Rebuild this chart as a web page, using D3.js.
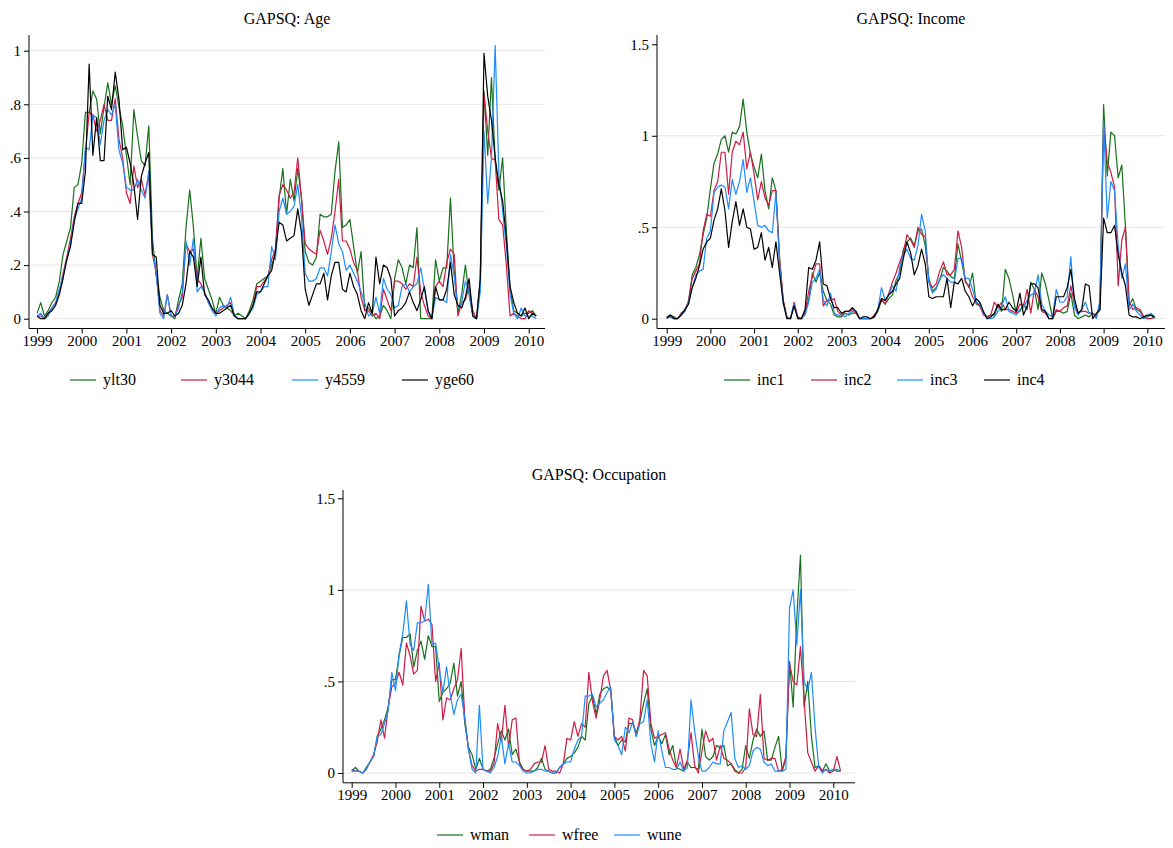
<!DOCTYPE html>
<html>
<head>
<meta charset="utf-8">
<script src="https://cdn.jsdelivr.net/npm/d3@7"></script>
<style>
  body { margin: 0; background: #fff; }
  svg text { font-family: "Liberation Serif", "Times New Roman", serif; fill: #000; }
</style>
</head>
<body>
<svg id="chart" width="1173" height="848"></svg>
<script>
// Monthly observations, January 1999 through March 2010
const startYear = 1999;
const yearTicks = [1999, 2000, 2001, 2002, 2003, 2004, 2005, 2006, 2007, 2008, 2009, 2010];
const ageTicks = [0, 0.2, 0.4, 0.6, 0.8, 1];
const wideTicks = [0, 0.5, 1, 1.5];

// GAPSQ by age group
const ylt30 = [
  0.02, 0.06, 0.01, 0.03, 0.06, 0.08, 0.14, 0.24, 0.29, 0.34, 0.49, 0.50,
  0.58, 0.77, 0.77, 0.85, 0.82, 0.69, 0.79, 0.88, 0.80, 0.87, 0.79, 0.72,
  0.61, 0.50, 0.78, 0.68, 0.59, 0.57, 0.72, 0.30, 0.16, 0.08, 0.03, 0.02,
  0.01, 0.00, 0.07, 0.13, 0.34, 0.48, 0.34, 0.15, 0.30, 0.15, 0.11, 0.07,
  0.02, 0.08, 0.05, 0.04, 0.03, 0.01, 0.02, 0.01, 0.00, 0.03, 0.07, 0.13,
  0.14, 0.15, 0.16, 0.20, 0.24, 0.45, 0.56, 0.39, 0.52, 0.44, 0.56, 0.45,
  0.25, 0.21, 0.20, 0.23, 0.39, 0.38, 0.38, 0.39, 0.55, 0.66, 0.34, 0.35,
  0.37, 0.27, 0.17, 0.25, 0.03, 0.04, 0.02, 0.00, 0.01, 0.05, 0.03, 0.00,
  0.15, 0.22, 0.19, 0.13, 0.20, 0.19, 0.34, 0.00, 0.00, 0.00, 0.00, 0.22,
  0.14, 0.19, 0.19, 0.45, 0.17, 0.02, 0.09, 0.20, 0.09, 0.01, 0.00, 0.14,
  0.85, 0.61, 0.90, 0.59, 0.48, 0.60, 0.33, 0.11, 0.03, 0.02, 0.01, 0.02,
  0.02, 0.03, 0.01
];
const y3044 = [
  0.01, 0.01, 0.00, 0.02, 0.04, 0.06, 0.10, 0.17, 0.23, 0.30, 0.38, 0.43,
  0.47, 0.62, 0.77, 0.76, 0.70, 0.74, 0.80, 0.74, 0.74, 0.82, 0.67, 0.60,
  0.47, 0.43, 0.57, 0.49, 0.52, 0.46, 0.54, 0.24, 0.17, 0.03, 0.01, 0.09,
  0.01, 0.01, 0.05, 0.08, 0.28, 0.25, 0.26, 0.15, 0.13, 0.10, 0.06, 0.04,
  0.02, 0.03, 0.04, 0.05, 0.06, 0.01, 0.00, 0.00, 0.00, 0.02, 0.05, 0.12,
  0.12, 0.14, 0.16, 0.22, 0.26, 0.46, 0.50, 0.48, 0.45, 0.47, 0.60, 0.45,
  0.28, 0.26, 0.25, 0.24, 0.33, 0.29, 0.24, 0.30, 0.40, 0.52, 0.29, 0.29,
  0.26, 0.21, 0.18, 0.08, 0.03, 0.03, 0.01, 0.02, 0.00, 0.11, 0.07, 0.03,
  0.14, 0.14, 0.13, 0.11, 0.13, 0.12, 0.23, 0.10, 0.05, 0.01, 0.00, 0.12,
  0.14, 0.12, 0.21, 0.26, 0.24, 0.01, 0.06, 0.07, 0.12, 0.03, 0.00, 0.14,
  0.84, 0.70, 0.60, 0.59, 0.37, 0.35, 0.20, 0.01, 0.02, 0.01, 0.00, 0.00,
  0.03, 0.02, 0.01
];
const y4559 = [
  0.01, 0.02, 0.00, 0.01, 0.04, 0.06, 0.11, 0.16, 0.22, 0.28, 0.37, 0.41,
  0.45, 0.64, 0.63, 0.76, 0.75, 0.65, 0.74, 0.78, 0.76, 0.80, 0.63, 0.58,
  0.49, 0.48, 0.48, 0.52, 0.48, 0.45, 0.55, 0.26, 0.17, 0.02, 0.00, 0.09,
  0.01, 0.01, 0.04, 0.10, 0.29, 0.20, 0.30, 0.10, 0.12, 0.10, 0.06, 0.03,
  0.01, 0.04, 0.05, 0.04, 0.08, 0.01, 0.00, 0.00, 0.00, 0.02, 0.04, 0.09,
  0.10, 0.12, 0.12, 0.27, 0.22, 0.40, 0.45, 0.39, 0.40, 0.42, 0.50, 0.38,
  0.17, 0.14, 0.14, 0.15, 0.19, 0.19, 0.16, 0.25, 0.35, 0.28, 0.25, 0.18,
  0.20, 0.17, 0.14, 0.10, 0.06, 0.01, 0.02, 0.08, 0.02, 0.15, 0.11, 0.09,
  0.04, 0.05, 0.12, 0.13, 0.10, 0.12, 0.13, 0.19, 0.11, 0.03, 0.00, 0.08,
  0.07, 0.07, 0.06, 0.24, 0.16, 0.04, 0.06, 0.14, 0.10, 0.01, 0.00, 0.10,
  0.70, 0.43, 0.60, 1.02, 0.54, 0.40, 0.27, 0.09, 0.02, 0.00, 0.04, 0.01,
  0.01, 0.01, 0.00
];
const yge60 = [
  0.01, 0.00, 0.00, 0.02, 0.03, 0.05, 0.09, 0.15, 0.22, 0.27, 0.36, 0.43,
  0.43, 0.55, 0.95, 0.61, 0.75, 0.59, 0.59, 0.83, 0.78, 0.92, 0.82, 0.63,
  0.64, 0.58, 0.50, 0.37, 0.53, 0.58, 0.62, 0.24, 0.23, 0.05, 0.02, 0.02,
  0.03, 0.01, 0.02, 0.05, 0.13, 0.25, 0.23, 0.12, 0.23, 0.09, 0.07, 0.04,
  0.02, 0.02, 0.03, 0.04, 0.05, 0.01, 0.00, 0.00, 0.00, 0.02, 0.05, 0.10,
  0.10, 0.13, 0.16, 0.18, 0.25, 0.36, 0.35, 0.29, 0.30, 0.31, 0.41, 0.32,
  0.11, 0.05, 0.09, 0.13, 0.13, 0.17, 0.07, 0.16, 0.21, 0.21, 0.11, 0.10,
  0.17, 0.12, 0.09, 0.03, 0.00, 0.06, 0.02, 0.23, 0.13, 0.20, 0.19, 0.15,
  0.01, 0.03, 0.04, 0.06, 0.10, 0.06, 0.03, 0.07, 0.12, 0.03, 0.00, 0.12,
  0.07, 0.07, 0.11, 0.21, 0.09, 0.05, 0.04, 0.08, 0.15, 0.01, 0.00, 0.15,
  0.99, 0.83, 0.74, 0.60, 0.50, 0.44, 0.30, 0.12, 0.06, 0.02, 0.01, 0.04,
  0.00, 0.02, 0.01
];

// GAPSQ by income quartile
const inc1 = [
  0.01, 0.02, 0.01, 0.00, 0.03, 0.05, 0.09, 0.24, 0.28, 0.35, 0.46, 0.55,
  0.71, 0.85, 0.90, 0.98, 1.00, 0.91, 1.02, 1.01, 1.05, 1.20, 1.02, 0.90,
  0.83, 0.77, 0.90, 0.70, 0.60, 0.77, 0.70, 0.33, 0.10, 0.01, 0.00, 0.07,
  0.01, 0.00, 0.04, 0.10, 0.25, 0.20, 0.25, 0.15, 0.10, 0.08, 0.02, 0.01,
  0.01, 0.03, 0.02, 0.03, 0.03, 0.00, 0.00, 0.00, 0.00, 0.01, 0.04, 0.10,
  0.08, 0.11, 0.13, 0.21, 0.25, 0.38, 0.42, 0.44, 0.40, 0.48, 0.49, 0.40,
  0.22, 0.15, 0.17, 0.21, 0.28, 0.26, 0.23, 0.22, 0.41, 0.31, 0.21, 0.17,
  0.25, 0.08, 0.07, 0.03, 0.01, 0.02, 0.02, 0.07, 0.04, 0.27, 0.22, 0.13,
  0.03, 0.04, 0.08, 0.05, 0.20, 0.16, 0.05, 0.25, 0.19, 0.10, 0.00, 0.04,
  0.04, 0.03, 0.04, 0.14, 0.02, 0.00, 0.01, 0.02, 0.01, 0.03, 0.02, 0.05,
  1.17, 0.78, 1.02, 1.00, 0.77, 0.84, 0.50, 0.07, 0.11, 0.05, 0.04, 0.01,
  0.01, 0.02, 0.00
];
const inc2 = [
  0.01, 0.01, 0.00, 0.00, 0.03, 0.04, 0.10, 0.22, 0.26, 0.30, 0.48, 0.57,
  0.56, 0.70, 0.75, 0.91, 0.91, 0.68, 0.91, 0.97, 0.95, 1.02, 0.82, 0.91,
  0.79, 0.65, 0.75, 0.66, 0.62, 0.70, 0.70, 0.33, 0.10, 0.01, 0.00, 0.09,
  0.01, 0.00, 0.03, 0.15, 0.23, 0.30, 0.30, 0.07, 0.10, 0.10, 0.11, 0.04,
  0.02, 0.04, 0.04, 0.05, 0.03, 0.00, 0.00, 0.00, 0.00, 0.02, 0.05, 0.11,
  0.08, 0.14, 0.20, 0.25, 0.31, 0.36, 0.46, 0.43, 0.39, 0.50, 0.46, 0.45,
  0.20, 0.17, 0.19, 0.26, 0.31, 0.24, 0.24, 0.27, 0.48, 0.39, 0.20, 0.18,
  0.12, 0.09, 0.07, 0.02, 0.01, 0.02, 0.09, 0.06, 0.09, 0.05, 0.05, 0.04,
  0.03, 0.08, 0.07, 0.16, 0.03, 0.16, 0.12, 0.04, 0.03, 0.00, 0.00, 0.05,
  0.04, 0.06, 0.07, 0.18, 0.08, 0.03, 0.04, 0.04, 0.03, 0.03, 0.01, 0.08,
  1.05, 0.86, 0.80, 0.72, 0.18, 0.43, 0.50, 0.10, 0.05, 0.06, 0.05, 0.01,
  0.00, 0.00, 0.01
];
const inc3 = [
  0.01, 0.01, 0.00, 0.00, 0.02, 0.04, 0.09, 0.17, 0.24, 0.26, 0.27, 0.44,
  0.48, 0.69, 0.72, 0.73, 0.72, 0.60, 0.76, 0.68, 0.75, 0.87, 0.69, 0.77,
  0.64, 0.51, 0.50, 0.51, 0.48, 0.47, 0.69, 0.30, 0.08, 0.01, 0.00, 0.08,
  0.00, 0.00, 0.02, 0.09, 0.20, 0.22, 0.27, 0.10, 0.07, 0.14, 0.03, 0.02,
  0.02, 0.01, 0.03, 0.04, 0.04, 0.00, 0.00, 0.00, 0.00, 0.01, 0.05, 0.17,
  0.10, 0.13, 0.18, 0.15, 0.28, 0.35, 0.38, 0.33, 0.32, 0.40, 0.57, 0.48,
  0.20, 0.14, 0.16, 0.22, 0.24, 0.22, 0.20, 0.20, 0.33, 0.33, 0.22, 0.22,
  0.16, 0.09, 0.08, 0.03, 0.00, 0.00, 0.01, 0.04, 0.07, 0.12, 0.04, 0.03,
  0.02, 0.05, 0.06, 0.10, 0.13, 0.14, 0.24, 0.08, 0.04, 0.02, 0.01, 0.16,
  0.09, 0.09, 0.12, 0.34, 0.06, 0.02, 0.05, 0.09, 0.03, 0.03, 0.00, 0.10,
  1.08, 0.55, 0.75, 0.70, 0.40, 0.22, 0.30, 0.05, 0.08, 0.04, 0.02, 0.00,
  0.01, 0.03, 0.01
];
const inc4 = [
  0.00, 0.02, 0.00, 0.00, 0.02, 0.05, 0.08, 0.17, 0.22, 0.29, 0.38, 0.42,
  0.44, 0.54, 0.60, 0.71, 0.59, 0.39, 0.53, 0.64, 0.51, 0.60, 0.50, 0.49,
  0.38, 0.39, 0.47, 0.32, 0.39, 0.28, 0.42, 0.25, 0.09, 0.00, 0.00, 0.07,
  0.00, 0.00, 0.05, 0.28, 0.27, 0.32, 0.42, 0.19, 0.18, 0.11, 0.06, 0.06,
  0.03, 0.04, 0.04, 0.06, 0.04, 0.00, 0.01, 0.01, 0.00, 0.01, 0.05, 0.11,
  0.10, 0.13, 0.15, 0.19, 0.22, 0.33, 0.42, 0.36, 0.24, 0.29, 0.38, 0.30,
  0.12, 0.11, 0.12, 0.12, 0.12, 0.22, 0.06, 0.20, 0.19, 0.22, 0.15, 0.12,
  0.07, 0.11, 0.09, 0.04, 0.00, 0.01, 0.03, 0.08, 0.05, 0.05, 0.09, 0.06,
  0.04, 0.14, 0.02, 0.07, 0.19, 0.19, 0.17, 0.05, 0.04, 0.00, 0.00, 0.12,
  0.12, 0.12, 0.17, 0.27, 0.11, 0.03, 0.05, 0.19, 0.18, 0.00, 0.03, 0.05,
  0.55, 0.47, 0.47, 0.51, 0.35, 0.25, 0.18, 0.02, 0.01, 0.01, 0.00, 0.01,
  0.02, 0.02, 0.01
];

// GAPSQ by occupation
const wman = [
  0.01, 0.03, 0.01, 0.00, 0.03, 0.06, 0.09, 0.20, 0.24, 0.29, 0.36, 0.51,
  0.51, 0.64, 0.74, 0.74, 0.76, 0.58, 0.67, 0.72, 0.62, 0.75, 0.69, 0.69,
  0.39, 0.44, 0.46, 0.49, 0.60, 0.42, 0.50, 0.27, 0.14, 0.10, 0.02, 0.08,
  0.02, 0.01, 0.02, 0.08, 0.16, 0.23, 0.18, 0.24, 0.10, 0.13, 0.06, 0.02,
  0.01, 0.01, 0.01, 0.03, 0.08, 0.02, 0.01, 0.00, 0.00, 0.03, 0.05, 0.08,
  0.09, 0.11, 0.14, 0.20, 0.18, 0.38, 0.42, 0.32, 0.43, 0.46, 0.47, 0.45,
  0.20, 0.15, 0.18, 0.17, 0.27, 0.27, 0.22, 0.28, 0.38, 0.46, 0.24, 0.15,
  0.20, 0.16, 0.21, 0.10, 0.15, 0.03, 0.02, 0.01, 0.06, 0.03, 0.03, 0.02,
  0.24, 0.09, 0.07, 0.09, 0.15, 0.14, 0.15, 0.04, 0.05, 0.02, 0.00, 0.02,
  0.15, 0.08, 0.18, 0.24, 0.20, 0.23, 0.07, 0.07, 0.14, 0.20, 0.01, 0.08,
  0.61, 0.36, 0.85, 1.19, 0.36, 0.50, 0.20, 0.03, 0.04, 0.01, 0.05, 0.01,
  0.02, 0.01, 0.01
];
const wfree = [
  0.02, 0.01, 0.01, 0.00, 0.02, 0.06, 0.10, 0.17, 0.29, 0.19, 0.36, 0.47,
  0.49, 0.55, 0.48, 0.71, 0.64, 0.54, 0.56, 0.91, 0.83, 0.84, 0.81, 0.50,
  0.60, 0.29, 0.41, 0.40, 0.46, 0.51, 0.68, 0.30, 0.13, 0.04, 0.01, 0.02,
  0.02, 0.01, 0.01, 0.05, 0.27, 0.17, 0.37, 0.14, 0.29, 0.30, 0.05, 0.02,
  0.01, 0.02, 0.05, 0.06, 0.06, 0.15, 0.02, 0.01, 0.01, 0.00, 0.05, 0.19,
  0.18, 0.28, 0.20, 0.27, 0.25, 0.55, 0.39, 0.30, 0.40, 0.53, 0.56, 0.45,
  0.20, 0.18, 0.20, 0.12, 0.30, 0.29, 0.20, 0.30, 0.56, 0.53, 0.27, 0.19,
  0.20, 0.21, 0.22, 0.13, 0.07, 0.03, 0.13, 0.02, 0.07, 0.22, 0.04, 0.00,
  0.12, 0.23, 0.17, 0.19, 0.07, 0.15, 0.08, 0.07, 0.05, 0.01, 0.00, 0.00,
  0.03, 0.35, 0.21, 0.20, 0.43, 0.08, 0.07, 0.08, 0.08, 0.01, 0.02, 0.09,
  0.60, 0.50, 0.48, 0.69, 0.40, 0.11, 0.06, 0.01, 0.04, 0.01, 0.02, 0.00,
  0.01, 0.09, 0.01
];
const wune = [
  0.01, 0.01, 0.01, 0.00, 0.02, 0.06, 0.09, 0.20, 0.21, 0.27, 0.34, 0.55,
  0.45, 0.65, 0.76, 0.94, 0.70, 0.67, 0.82, 0.82, 0.83, 1.03, 0.70, 0.71,
  0.57, 0.44, 0.58, 0.43, 0.32, 0.40, 0.43, 0.30, 0.13, 0.02, 0.00, 0.37,
  0.02, 0.01, 0.00, 0.03, 0.09, 0.20, 0.05, 0.16, 0.06, 0.06, 0.04, 0.01,
  0.00, 0.00, 0.01, 0.02, 0.02, 0.01, 0.01, 0.00, 0.00, 0.03, 0.05, 0.06,
  0.06, 0.13, 0.18, 0.20, 0.42, 0.42, 0.43, 0.36, 0.38, 0.40, 0.44, 0.47,
  0.18, 0.15, 0.10, 0.25, 0.22, 0.28, 0.20, 0.27, 0.28, 0.40, 0.16, 0.06,
  0.23, 0.12, 0.03, 0.03, 0.02, 0.02, 0.06, 0.01, 0.03, 0.40, 0.23, 0.09,
  0.01, 0.01, 0.03, 0.06, 0.05, 0.05, 0.23, 0.28, 0.33, 0.08, 0.03, 0.04,
  0.02, 0.04, 0.12, 0.14, 0.13, 0.06, 0.04, 0.05, 0.01, 0.01, 0.01, 0.02,
  0.90, 1.00, 0.70, 1.00, 0.50, 0.45, 0.55, 0.25, 0.03, 0.00, 0.02, 0.01,
  0.02, 0.02, 0.01
];

const GREEN = "#17701b", RED = "#cf1b45", BLUE = "#1e8cff", BLACK = "#000000";

const svg = d3.select("#chart");
const FONT = "'Liberation Serif', 'Times New Roman', serif";

const panels = [
  {
    title: "GAPSQ: Age",
    left: 29, right: 545, top: 35, bottom: 328.5,
    x1999: 37, x2010: 528.7,
    yRef: 1, y0px: 318.7, yRefPx: 50.7,
    yTicks: ageTicks, grid: ageTicks,
    titleY: 24, legendY: 380,
    legendX: [70, 181, 292, 402],
    series: [
      { name: "ylt30", values: ylt30, color: GREEN },
      { name: "y3044", values: y3044, color: RED },
      { name: "y4559", values: y4559, color: BLUE },
      { name: "yge60", values: yge60, color: BLACK }
    ]
  },
  {
    title: "GAPSQ: Income",
    left: 657, right: 1165, top: 35, bottom: 328.5,
    x1999: 666.7, x2010: 1147.3,
    yRef: 1.5, y0px: 318.7, yRefPx: 44.3,
    yTicks: wideTicks, grid: [0, 0.5, 1],
    titleY: 24, legendY: 380,
    legendX: [724, 811, 897, 984],
    series: [
      { name: "inc1", values: inc1, color: GREEN },
      { name: "inc2", values: inc2, color: RED },
      { name: "inc3", values: inc3, color: BLUE },
      { name: "inc4", values: inc4, color: BLACK }
    ]
  },
  {
    title: "GAPSQ: Occupation",
    left: 343, right: 855, top: 490, bottom: 782.8,
    x1999: 351.7, x2010: 833.3,
    yRef: 1.5, y0px: 773, yRefPx: 498.3,
    yTicks: wideTicks, grid: [0, 0.5, 1],
    titleY: 480, legendY: 835,
    legendX: [437, 529, 614],
    series: [
      { name: "wman", values: wman, color: GREEN },
      { name: "wfree", values: wfree, color: RED },
      { name: "wune", values: wune, color: BLUE }
    ]
  }
];

const fmtY = d => d === 0 ? "0" : String(d).replace(/^0\./, ".");

panels.forEach(p => {
  const g = svg.append("g");
  const x = d3.scaleLinear().domain([1999, 2010]).range([p.x1999, p.x2010]);
  const y = d3.scaleLinear().domain([0, p.yRef]).range([p.y0px, p.yRefPx]);

  // horizontal gridlines
  g.append("g").selectAll("line").data(p.grid).join("line")
    .attr("x1", p.left).attr("x2", p.right)
    .attr("y1", d => y(d)).attr("y2", d => y(d))
    .attr("stroke", "#e6e6e6").attr("stroke-width", 1);

  // series lines
  const line = d3.line()
    .x((d, i) => x(startYear + i / 12))
    .y(d => y(d));
  p.series.forEach(s => {
    g.append("path").datum(s.values)
      .attr("d", line)
      .attr("fill", "none")
      .attr("stroke", s.color)
      .attr("stroke-width", 1.2)
      .attr("stroke-linejoin", "round");
  });

  // y axis
  const yAxis = g.append("g")
    .attr("transform", `translate(${p.left},0)`)
    .call(d3.axisLeft(y).tickValues(p.yTicks).tickFormat(fmtY).tickSize(5).tickPadding(3));
  yAxis.select(".domain").remove();
  g.append("line")
    .attr("x1", p.left).attr("x2", p.left)
    .attr("y1", p.top).attr("y2", p.bottom)
    .attr("stroke", "#000").attr("stroke-width", 1);

  // x axis
  const xAxis = g.append("g")
    .attr("transform", `translate(0,${p.bottom})`)
    .call(d3.axisBottom(x).tickValues(yearTicks).tickFormat(d3.format("d")).tickSize(5).tickPadding(2));
  xAxis.select(".domain").remove();
  g.append("line")
    .attr("x1", p.left).attr("x2", p.right)
    .attr("y1", p.bottom).attr("y2", p.bottom)
    .attr("stroke", "#000").attr("stroke-width", 1);

  [yAxis, xAxis].forEach(a => {
    a.attr("font-family", FONT).attr("font-size", 15);
    a.selectAll(".tick line").attr("stroke", "#000");
    a.selectAll(".tick text").attr("fill", "#000");
  });

  // panel title
  g.append("text")
    .attr("x", (p.left + p.right) / 2).attr("y", p.titleY)
    .attr("text-anchor", "middle")
    .attr("font-size", 16)
    .text(p.title);

  // legend
  const leg = g.append("g");
  p.series.forEach((s, i) => {
    const lx = p.legendX[i];
    leg.append("line")
      .attr("x1", lx).attr("x2", lx + 26)
      .attr("y1", p.legendY).attr("y2", p.legendY)
      .attr("stroke", s.color).attr("stroke-width", 1.2);
    leg.append("text")
      .attr("x", lx + 33).attr("y", p.legendY)
      .attr("dy", "0.33em")
      .attr("font-size", 16)
      .text(s.name);
  });
});
</script>
</body>
</html>
